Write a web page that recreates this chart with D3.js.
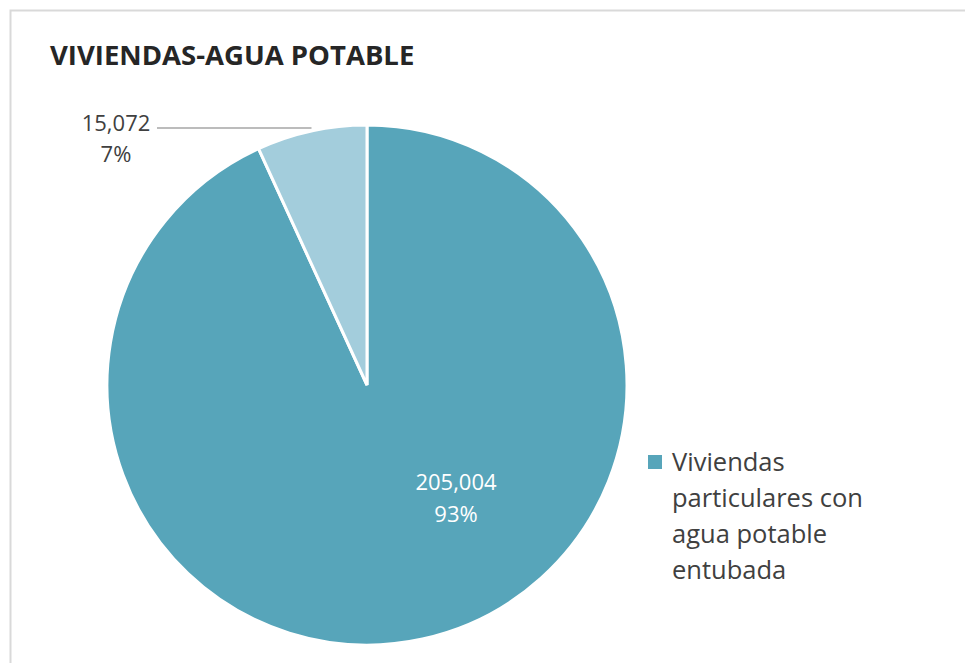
<!DOCTYPE html>
<html>
<head>
<meta charset="utf-8">
<script src="https://cdn.jsdelivr.net/npm/d3@7"></script>
<style>
  body { margin: 0; background: #fff; }
  text { font-family: "Open Sans", "Noto Sans", sans-serif; }
</style>
</head>
<body>
<div id="chart-area"></div>
<script>
// Data
var categories = ["Viviendas particulares con agua potable entubada",
                  "Viviendas particulares sin agua potable entubada"];
var values = [205004, 15072];
var colors = ["#57a5ba", "#a3cddc"];
var legendLines = ["Viviendas", "particulares con", "agua potable", "entubada"];

var width = 965, height = 663;

var svg = d3.select("#chart-area")
    .append("svg")
        .attr("width", width)
        .attr("height", height);

// chart border (only top and left visible)
svg.append("path")
    .attr("d", "M10.5," + height + " L10.5,10.5 L" + width + ",10.5")
    .attr("fill", "none")
    .attr("stroke", "#d9d9d9")
    .attr("stroke-width", 2);

// Title
svg.append("text")
    .attr("x", 50)
    .attr("y", 65)
    .attr("font-size", "27.5px")
    .attr("font-weight", "bold")
    .attr("fill", "#262626")
    .text("VIVIENDAS-AGUA POTABLE");

var cx = 367, cy = 385, radius = 260;
var total = d3.sum(values);
var pct = d3.format(".0%");
var num = d3.format(",");

var pie = d3.pie().sort(null);
var arcs = pie(values);
var arc = d3.arc().innerRadius(0).outerRadius(radius);

var g = svg.append("g")
    .attr("transform", "translate(" + cx + "," + cy + ")");

g.selectAll("path.slice")
    .data(arcs)
    .enter()
    .append("path")
        .attr("class", "slice")
        .attr("d", arc)
        .attr("fill", function(d, i){ return colors[i]; })
        .attr("stroke", "#fff")
        .attr("stroke-width", 3);

// Big slice label (inside)
var bigLabel = g.append("text")
    .attr("text-anchor", "middle")
    .attr("font-size", "22px")
    .attr("fill", "#ffffff");
bigLabel.append("tspan")
    .attr("x", 89).attr("y", 105)
    .text(num(values[0]));
bigLabel.append("tspan")
    .attr("x", 89).attr("y", 137)
    .text(pct(values[0] / total));

// Small slice label (outside with leader line)
var small = arcs[1];
var mid = (small.startAngle + small.endAngle) / 2;
var edgeX = radius * Math.sin(mid), edgeY = -radius * Math.cos(mid);
g.append("line")
    .attr("x1", 157 - cx).attr("y1", edgeY - 3)
    .attr("x2", edgeX).attr("y2", edgeY - 3)
    .attr("stroke", "#a6a6a6")
    .attr("stroke-width", 1.5);

var smallLabel = svg.append("text")
    .attr("text-anchor", "middle")
    .attr("font-size", "22px")
    .attr("fill", "#404040");
smallLabel.append("tspan")
    .attr("x", 116).attr("y", 131)
    .text(num(values[1]));
smallLabel.append("tspan")
    .attr("x", 116).attr("y", 162)
    .text(pct(values[1] / total));

// Legend (only first entry visible)
var legend = svg.append("g")
    .attr("transform", "translate(648, 455)");
legend.append("rect")
    .attr("width", 14)
    .attr("height", 14)
    .attr("fill", colors[0]);
var lt = legend.append("text")
    .attr("font-size", "25.5px")
    .attr("fill", "#404040");
legendLines.forEach(function(line, i){
    lt.append("tspan")
        .attr("x", 24)
        .attr("y", 16 + i * 36)
        .text(line);
});
</script>
</body>
</html>
